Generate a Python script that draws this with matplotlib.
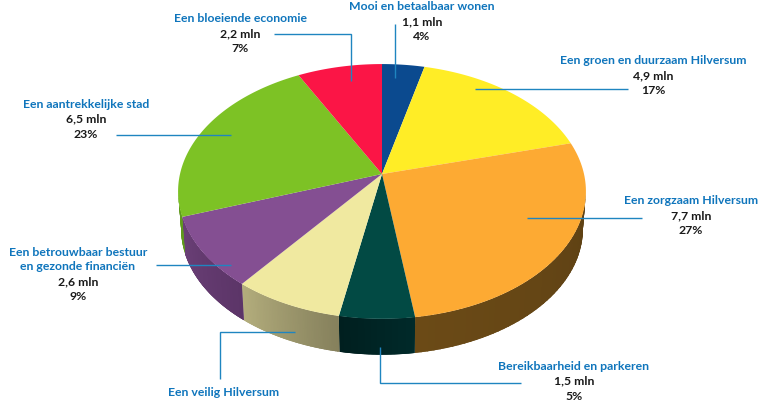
import numpy as np
import matplotlib
matplotlib.use("Agg")
import matplotlib.pyplot as plt
from matplotlib.patches import Polygon

# begroting per thema, rechtsom vanaf 12 uur
names = ["Mooi en betaalbaar wonen", "Een groen en duurzaam Hilversum", "Een zorgzaam Hilversum",
         "Bereikbaarheid en parkeren", "Een veilig Hilversum",
         "Een betrouwbaar bestuur\nen gezonde financiën", "Een aantrekkelijke stad", "Een bloeiende economie"]
# veilig Hilversum: bedrag valt buiten beeld, geschat uit de taartpunt
values = [1.1, 4.9, 7.7, 1.5, 2.2, 2.6, 6.5, 2.2]
show_value = [True, True, True, True, False, True, True, True]
pct = [4, 17, 27, 5, 8, 9, 23, 7]
colors = ["#0b4a8f", "#ffed26", "#fdaa33", "#024a44", "#f0e9a0", "#844f92", "#7dc225", "#fb1546"]
side_left = ["#06284f", "#8c8215", "#6b4a16", "#001f1f", "#b3ad7c", "#6a3f76", "#5f9a1c", "#8c0c27"]
side_right = ["#06284f", "#8c8215", "#5e4114", "#002a2a", "#85805c", "#5c3568", "#5f9a1c", "#8c0c27"]

LINE = "#1f85c0"
NAME = "#0f75bc"

# perspectief van de taart
cx, cy = 382, 174
a, b, k = 202, 125, 0.137
depth = 38


def project(theta, shift=0.0, scale=1.0):
    u, v = np.sin(theta), np.cos(theta)
    w = 1 + k * v
    return cx + scale * a * u / w, cy - scale * b * v / w + shift


def blend(c1, c2, t):
    return (1 - t) * np.array(matplotlib.colors.to_rgb(c1)) + t * np.array(matplotlib.colors.to_rgb(c2))


plt.rcParams["font.family"] = ["Lato", "DejaVu Sans"]
fig = plt.figure(figsize=(7.75, 4.01), dpi=100)
ax = fig.add_axes([0, 0, 1, 1])
ax.set_xlim(0, 775)
ax.set_ylim(401, 0)
ax.axis("off")

edges = np.cumsum([0] + values) / sum(values) * 2 * np.pi

# zijkant eerst, bovenvlak eroverheen
for i in range(len(values)):
    th = np.linspace(edges[i], edges[i + 1], 60)
    th = th[project(th)[1] > cy + 15]
    if len(th) < 2:
        continue
    x0, y0 = project(th)
    x1, y1 = project(th, shift=depth, scale=0.985)
    clip = Polygon(np.c_[np.r_[x0, x1[::-1]], np.r_[y0, y1[::-1]]], closed=True,
                   transform=ax.transData, fc="none", ec="none")
    ax.add_patch(clip)
    for j in range(len(th) - 1):
        col = blend(side_left[i], side_right[i], 1 - j / (len(th) - 2))
        poly = ax.fill([x0[j], x0[j + 1], x1[j + 1], x1[j]], [y0[j], y0[j + 1], y1[j + 1], y1[j]],
                       color=col, lw=1.0, zorder=1)[0]
        poly.set_clip_path(clip)

for i in range(len(values)):
    th = np.linspace(edges[i], edges[i + 1], 80)
    x, y = project(th)
    ax.fill(np.r_[cx, x], np.r_[cy, y], color=colors[i], lw=0, zorder=2)

# aanwijslijnen
leaders = [
    ([395, 395], [24, 78]),
    ([475, 628], [89, 89]),
    ([527, 642], [218, 218]),
    ([380, 380, 521], [347, 383, 383]),
    ([295, 220, 220], [332, 332, 379]),
    ([156, 231], [265, 265]),
    ([116, 231], [135, 135]),
    ([274, 351, 351], [34, 34, 81]),
]
for xs, ys in leaders:
    ax.plot(xs, ys, color=LINE, lw=1.0, zorder=3, solid_joinstyle="miter", solid_capstyle="butt")

# labels: midden x, y van de eerste regel
label_pos = [(422, 7), (653, 61), (691, 201), (574, 366), (224, 393), (78, 252), (86, 104), (240, 19)]
step = 15.0
fs = 8.85
for i, (lx, ly) in enumerate(label_pos):
    lines = names[i].split("\n")
    for n, t in enumerate(lines):
        ax.text(lx, ly + n * step, t, color=NAME, fontsize=fs, fontweight="bold",
                ha="center", va="center", zorder=4)
    if show_value[i]:
        y2 = ly + len(lines) * step
        val = f"{values[i]:.1f}".replace(".", ",") + " mln"
        ax.text(lx, y2, val, color="#1a1a1a", fontsize=fs, fontweight="bold",
                ha="center", va="center", zorder=4)
        ax.text(lx, y2 + step, f"{pct[i]}%", color="#1a1a1a", fontsize=fs, fontweight="bold",
                ha="center", va="center", zorder=4)

fig.savefig("out.png", dpi=100)
